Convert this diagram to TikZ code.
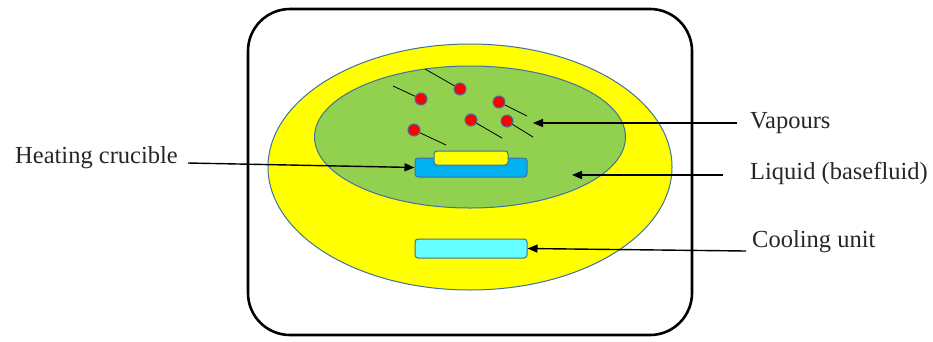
\documentclass[tikz,border=0pt]{standalone}
\usepackage{fontspec}
\setmainfont{Liberation Serif}
\usetikzlibrary{shapes.geometric,arrows.meta}
\definecolor{olne}{HTML}{41719C}
\definecolor{grn}{HTML}{92D050}
\definecolor{ylw}{HTML}{FFFF00}
\definecolor{blu}{HTML}{00B0F0}
\definecolor{cyn}{HTML}{66FFFF}
\tikzset{
  shp/.style={draw=olne, line width=1pt},
  vap/.style={shp, circle, fill=red, minimum size=12pt, inner sep=0pt},
  tail/.style={line width=0.8pt, black},
  arr/.style={line width=1.4pt, -{Triangle[length=10pt,width=8pt]}},
  lbl/.style={font=\fontsize{24.5}{27}\selectfont, inner sep=3pt, text=black!85},
  rbox/.style={shp, rounded corners=3pt}
}
\begin{document}
\begin{tikzpicture}[x=1pt,y=-1pt]
\useasboundingbox (0,0) rectangle (933,341);
\node[draw=black, line width=2.6pt, rounded corners=42pt, minimum width=444pt, minimum height=326pt] (box) at (470,172) {};
\node[shp, ellipse, fill=ylw, minimum width=404pt, minimum height=246pt] (outer) at (470,167) {};
\node[shp, ellipse, fill=grn, minimum width=311pt, minimum height=142pt] (liq) at (470,137) {};
% vapours
\foreach \n/\cx/\cy/\tx/\ty in {a/460/89/425/69, b/421/99/393/86, c/499/102/527/116, d/471/120/502/138, e/507/121/533/137, f/414/130/446/145}{
  \coordinate (t\n) at (\tx,\ty);
  \draw[tail] (\cx,\cy) -- (t\n);
  \node[vap] (v\n) at (\cx,\cy) {};
}
% heating crucible
\node[rbox, fill=blu, minimum width=112pt, minimum height=19pt, inner sep=0pt] (cru) at (471,167.5) {};
\node[rbox, fill=ylw, minimum width=74pt, minimum height=14pt, inner sep=0pt] (heat) at (471,158) {};
% cooling unit
\node[rbox, fill=cyn, minimum width=112pt, minimum height=19pt, inner sep=0pt] (cool) at (471,248.5) {};
% labels
\node[lbl, anchor=west] (lvap) at (747,123) {Vapours};
\node[lbl, anchor=west] (lliq) at (747,173) {Liquid (basefluid)};
\node[lbl, anchor=west] (lcool) at (749,242) {Cooling unit};
\node[lbl, anchor=east] (lheat) at (181,158) {Heating crucible};
\coordinate (pvap) at (533,123);
\coordinate (pliq) at (572,175);
\coordinate (s1) at (737,123);
\coordinate (s2) at (723,175);
\coordinate (s3) at (746,251);
\coordinate (s4) at (188,163);
\draw[arr] (s1) -- (pvap);
\draw[arr] (s2) -- (pliq);
\draw[arr] (s3) -- (cool.east);
\draw[arr] (s4) -- (cru.west);
\end{tikzpicture}
\end{document}
